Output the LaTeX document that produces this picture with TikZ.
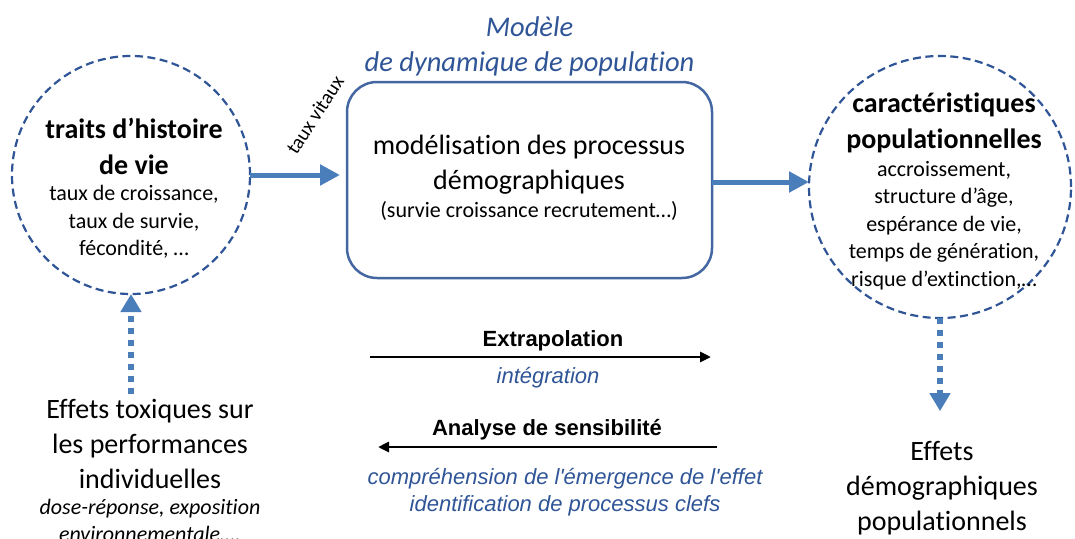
\documentclass[tikz,border=0pt]{standalone}
\usepackage{fontspec}
\setmainfont{Carlito}[Ligatures=NoCommon]
\newfontfamily\arialfont{Liberation Sans}
\usetikzlibrary{positioning,arrows.meta}
\definecolor{bordbleu}{RGB}{47,85,151}
\definecolor{flechebleu}{RGB}{74,126,187}

\begin{document}
\begin{tikzpicture}[
    x=1pt, y=-1pt,
    node distance=4pt,
    every node/.style={inner sep=0pt, outer sep=0pt},
    cercle/.style={draw=bordbleu, circle, line width=2.2pt, dash pattern=on 8pt off 4.5pt},
    boite/.style={draw=bordbleu!90, line width=2.5pt, rounded corners=30pt, minimum width=365pt, minimum height=196pt},
    titre/.style={font=\fontsize{28}{36}\selectfont\bfseries, align=center},
    petit/.style={font=\fontsize{22}{27.5}\selectfont, align=center},
    grand/.style={font=\fontsize{28}{35}\selectfont, align=center},
    modtitre/.style={font=\fontsize{28.5}{35}\selectfont\itshape, text=bordbleu, align=center},
    arialgras/.style={font=\arialfont\fontsize{22}{27}\selectfont\bfseries, align=center},
    arialit/.style={font=\arialfont\fontsize{22}{27}\selectfont\itshape, text=bordbleu, align=center},
    bleu/.style={draw=flechebleu, line width=5pt, -{Triangle[length=20pt,width=20pt]}},
    pointille/.style={draw=flechebleu, line width=6pt, dash pattern=on 6pt off 6pt, -{Triangle[length=18pt,width=20pt]}},
    noir/.style={draw=black, line width=2.8pt, -{Triangle[length=11pt,width=10pt]}}
]
\useasboundingbox (0,0) rectangle (1075,538);

% cercles et boite
\node[cercle, minimum size=238pt] (traits) at (131,175) {};
\node[boite] (modele) at (529.5,180) {};
\node[cercle, minimum size=262pt] (carac) at (940,187) {};

% titre du modele
\node[modtitre, above=6pt of modele] (modeletitre) {Mod\`ele\\de dynamique de population};

% textes dans les cercles
\node[titre] (traitstitre) at (134,146) {traits d'histoire\\de vie};
\node[petit, below=11pt of traitstitre] (traitstexte) {taux de croissance,\\taux de survie,\\f\'econdit\'e, \dots};
\node[titre] (caractitre) at (944,123) {caract\'eristiques\\populationnelles};
\node[petit, below=8pt of caractitre] (caractexte) {accroissement,\\structure d'\^age,\\esp\'erance de vie,\\temps de g\'en\'eration,\\risque d'extinction,\dots};

% texte dans la boite
\node[grand] (modeletexte) at (529,165) {mod\'elisation des processus\\d\'emographiques};
\node[petit, below=7pt of modeletexte] (modelesous) {(survie croissance recrutement\dots)};

% fleches pleines
\draw[bleu, shorten >=7pt] (traits.east) -- (traits.east -| modele.west);
\node[rotate=57, font=\fontsize{20}{22}\selectfont] (vitaux) at (315,115) {taux vitaux};
\draw[bleu] (modele.east |- 0,182) -- (carac.west |- 0,182);

% textes du bas
\node[grand] (toxiques) at (150,444) {Effets toxiques sur\\les performances\\individuelles};
\node[petit, font=\fontsize{22}{27}\selectfont\itshape, below=10pt of toxiques] (dose) {dose-r\'eponse, exposition\\environnementale\dots.};
\node[grand] (effets) at (942,488) {Effets\\d\'emographiques\\populationnels};

% fleches pointillees
\draw[pointille] (traits.south |- toxiques.north) ++(0,-5) -- (traits.south);
\draw[pointille] (carac.south) -- ([yshift=30pt]carac.south |- effets.north);

% extrapolation et sensibilite
\coordinate (extrag) at (370,357);
\coordinate (extrad) at (711,357);
\draw[noir] (extrag) -- (extrad);
\node[arialgras] (extra) at (553,341) {Extrapolation};
\node[arialit] (integ) at (548,378) {int\'egration};

\coordinate (sensd) at (717,447);
\coordinate (sensg) at (378,447);
\draw[noir] (sensd) -- (sensg);
\node[arialgras] (sens) at (547,430) {Analyse de sensibilit\'e};
\node[arialit] (compr) at (565,492) {compr\'ehension de l'\'emergence de l'effet\\identification de processus clefs};

\end{tikzpicture}
\end{document}
